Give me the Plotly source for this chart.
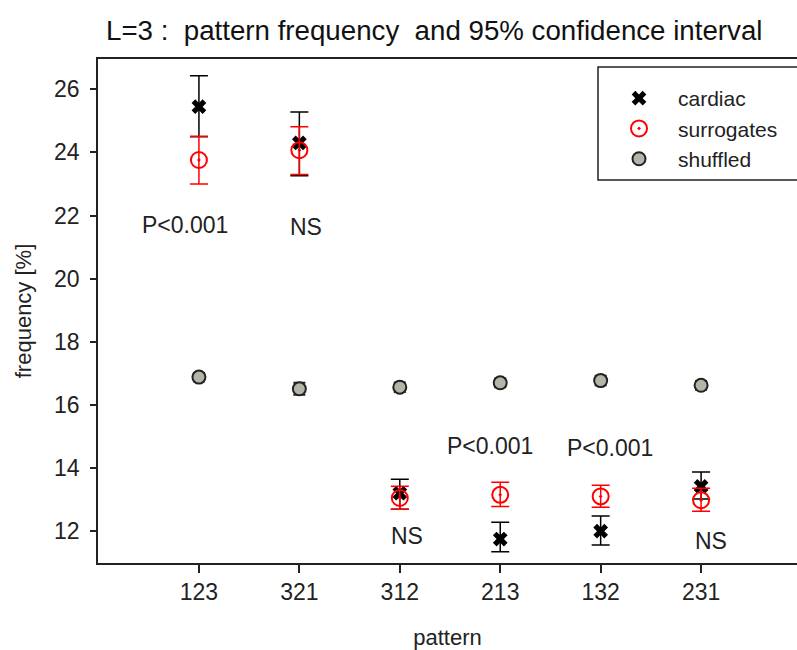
import plotly.graph_objects as go

patterns = ["123", "321", "312", "213", "132", "231"]
xpos = [1, 2, 3, 4, 5, 6]

cardiac = [25.45, 24.3, 13.2, 11.75, 12.0, 13.42]
cardiac_up = [0.98, 0.98, 0.44, 0.53, 0.48, 0.45]
cardiac_dn = [0.95, 1.04, 0.51, 0.40, 0.44, 0.40]

surr = [23.76, 24.07, 13.05, 13.15, 13.1, 12.98]
surr_up = [0.75, 0.74, 0.37, 0.40, 0.35, 0.38]
surr_dn = [0.76, 0.77, 0.36, 0.37, 0.34, 0.35]

shuffled = [16.88, 16.51, 16.56, 16.70, 16.77, 16.62]
shuffled_err = [0.13, 0.19, 0.15, 0.14, 0.15, 0.14]

notes = ["P<0.001", "NS", "NS", "P<0.001", "P<0.001", "NS"]
note_x = [0.86, 2.07, 3.07, 3.90, 5.09, 6.10]
note_y = [21.7, 21.65, 11.85, 14.70, 14.64, 11.69]

FONT = "Liberation Sans, Arial, sans-serif"
INK = "#222222"

fig = go.Figure()
fig.add_trace(go.Scatter(
    x=xpos, y=cardiac, mode="markers", name="cardiac",
    marker=dict(symbol="x", size=13, color="black", line=dict(width=0)),
    error_y=dict(type="data", symmetric=False, array=cardiac_up, arrayminus=cardiac_dn,
                 color="black", thickness=1.5, width=9),
))
fig.add_trace(go.Scatter(
    x=xpos, y=surr, mode="markers", name="surrogates",
    marker=dict(symbol="circle-open-dot", size=16, color="red", line=dict(width=2, color="red")),
    error_y=dict(type="data", symmetric=False, array=surr_up, arrayminus=surr_dn,
                 color="red", thickness=1.5, width=9),
))
fig.add_trace(go.Scatter(
    x=xpos, y=shuffled, mode="markers", name="shuffled",
    marker=dict(symbol="circle", size=13, color="#b4b5a8", line=dict(width=2, color=INK)),
    error_y=dict(type="data", array=shuffled_err, color=INK, thickness=2, width=6),
))

for t, xx, yy in zip(notes, note_x, note_y):
    fig.add_annotation(x=xx, y=yy, text=t, showarrow=False,
                       font=dict(family=FONT, size=23, color=INK))

# legend frame (runs off the right edge as in the reference)
fig.add_shape(type="rect", xref="paper", yref="paper",
              x0=(598 - 98) / 699, x1=1.02, y0=(563 - 180) / 504, y1=(563 - 67) / 504,
              line=dict(color=INK, width=1.5), fillcolor="white", layer="above")

fig.update_layout(
    width=797, height=650,
    margin=dict(l=98, r=0, t=59, b=87),
    paper_bgcolor="white", plot_bgcolor="white",
    font=dict(family=FONT, color=INK),
    title=dict(text="L=3 :  pattern frequency  and 95% confidence interval",
               x=106 / 797, xanchor="left", xref="container",
               y=1 - 30 / 650, yanchor="middle", yref="container",
               font=dict(family=FONT, size=27.7, color="#111111")),
    showlegend=True,
    legend=dict(x=(600 - 98) / 699, y=(563 - 78) / 504, xanchor="left", yanchor="top",
                borderwidth=0, bgcolor="rgba(0,0,0,0)",
                font=dict(family=FONT, size=21, color=INK),
                itemwidth=68, tracegroupgap=0),
)
fig.update_xaxes(
    range=[-0.005, 6.955], tickmode="array", tickvals=xpos, ticktext=patterns,
    showline=True, linecolor=INK, linewidth=1.5, mirror=True,
    ticks="outside", ticklen=8, tickwidth=1.5, tickcolor=INK,
    showgrid=False, zeroline=False, automargin=False,
    tickfont=dict(family=FONT, size=23, color=INK),
    title=dict(text="pattern", font=dict(family=FONT, size=22, color=INK), standoff=27),
)
fig.update_yaxes(
    range=[10.99, 26.96], tickmode="array", tickvals=[12, 14, 16, 18, 20, 22, 24, 26],
    showline=True, linecolor=INK, linewidth=1.5,
    ticks="outside", ticklen=6, tickwidth=1.5, tickcolor=INK,
    showgrid=False, zeroline=False, automargin=False, ticklabelstandoff=6,
    tickfont=dict(family=FONT, size=23, color=INK),
    title=dict(text="frequency [%]", font=dict(family=FONT, size=22, color=INK), standoff=16),
)

fig.write_html("out.html", config={"displayModeBar": False},
               post_script="document.body.style.margin='0';document.body.style.overflow='hidden';")
